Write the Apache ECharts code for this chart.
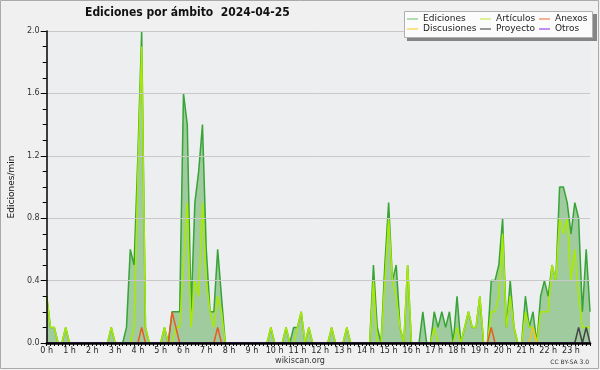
<!DOCTYPE html>
<html><head><meta charset="utf-8">
<script src="https://cdn.jsdelivr.net/npm/echarts@6/dist/echarts.min.js"></script>
<style>html,body{margin:0;padding:0;background:#f0f0f0}#c{width:600px;height:370px}</style>
</head><body><div id="c"></div><script>
const hourLabels = ['0 h','1 h','2 h','3 h','4 h','5 h','6 h','7 h','8 h','9 h','10 h','11 h','12 h','13 h','14 h','15 h','16 h','17 h','18 h','19 h','20 h','21 h','22 h','23 h'];
const yTicks = [0, 0.4, 0.8, 1.2, 1.6, 2.0];
// 10-minute bins, 6 per hour
const ediciones = [
 0.3,0.1,0.1,0,0,0.1,
 0,0,0,0,0,0,
 0,0,0,0,0,0.1,
 0,0,0,0.1,0.6,0.5,
 1.2,2.0,0.1,0,0,0,
 0,0.1,0,0.2,0.2,0.2,
 1.6,1.4,0.2,0.9,1.1,1.4,
 0.6,0.2,0.2,0.6,0.3,0,
 0,0,0,0,0,0,
 0,0,0,0,0,0.1,
 0,0,0,0.1,0,0.1,
 0.1,0.2,0,0.1,0,0,
 0,0,0,0.1,0,0,
 0,0.1,0,0,0,0,
 0,0,0.5,0.1,0,0.5,
 0.9,0.4,0.5,0.1,0,0.5,
 0,0,0,0.2,0,0,
 0.2,0.1,0.2,0.1,0.2,0,
 0.3,0,0.1,0.2,0.1,0.1,
 0.3,0,0,0.4,0.4,0.5,
 0.8,0.1,0.4,0.1,0,0,
 0.3,0.1,0.2,0,0.3,0.4,
 0.3,0.5,0.4,1.0,1.0,0.9,
 0.7,0.9,0.8,0.2,0.6,0.2
];
const articulos = [
 0.3,0.1,0.1,0,0,0.1,
 0,0,0,0,0,0,
 0,0,0,0,0,0.1,
 0,0,0,0,0,0.1,
 1.1,1.9,0.1,0,0,0,
 0,0.1,0,0,0.1,0.1,
 0.5,0.9,0.1,0.4,0.3,0.9,
 0.4,0.2,0.1,0.3,0.2,0,
 0,0,0,0,0,0,
 0,0,0,0,0,0.1,
 0,0,0,0.1,0,0,
 0.1,0.2,0,0.1,0,0,
 0,0,0,0.1,0,0,
 0,0.1,0,0,0,0,
 0,0,0.4,0,0,0.4,
 0.8,0.4,0.3,0.1,0,0.5,
 0,0,0,0,0,0,
 0.1,0,0,0,0,0,
 0.1,0,0.1,0.2,0.1,0.1,
 0.3,0,0,0.2,0.2,0.3,
 0.7,0.1,0.3,0.1,0,0,
 0.2,0.1,0.1,0,0.2,0.2,
 0.2,0.5,0.4,0.8,0.7,0.8,
 0.4,0.6,0.3,0.1,0.1,0.1
];
const anexos = [
 0,0,0,0,0,0, 0,0,0,0,0,0, 0,0,0,0,0,0, 0,0,0,0,0,0,
 0,0.1,0,0,0,0, 0,0,0,0.2,0.1,0, 0,0,0,0,0,0, 0,0,0,0.1,0,0,
 0,0,0,0,0,0, 0,0,0,0,0,0, 0,0,0,0,0,0, 0,0,0,0,0,0,
 0,0,0,0,0,0, 0,0,0,0,0,0, 0,0,0,0,0,0, 0,0,0,0,0,0,
 0,0,0,0,0,0, 0,0,0,0,0,0, 0,0,0,0,0,0, 0,0,0,0.1,0,0,
 0,0,0,0,0,0, 0,0,0,0,0,0, 0,0,0,0,0,0, 0,0,0,0,0,0
];
const discusiones = [
 0,0,0,0,0,0, 0,0,0,0,0,0, 0,0,0,0,0,0, 0,0,0,0,0,0,
 0,0,0,0,0,0, 0,0,0,0,0,0, 0,0,0,0,0,0, 0,0,0,0,0,0,
 0,0,0,0,0,0, 0,0,0,0,0,0, 0,0,0,0,0,0, 0,0,0,0,0,0,
 0,0,0,0,0,0, 0,0,0,0,0,0, 0,0,0,0,0,0, 0,0,0,0,0,0,
 0,0,0,0,0,0, 0,0,0,0,0,0, 0,0,0,0,0,0, 0,0,0,0,0,0,
 0,0,0,0,0,0, 0,0,0.1,0,0,0, 0,0,0,0,0,0, 0,0,0,0,0,0
];
const proyecto = [
 0,0,0,0,0,0, 0,0,0,0,0,0, 0,0,0,0,0,0, 0,0,0,0,0,0,
 0,0,0,0,0,0, 0,0,0,0,0,0, 0,0,0,0,0,0, 0,0,0,0,0,0,
 0,0,0,0,0,0, 0,0,0,0,0,0, 0,0,0,0,0,0, 0,0,0,0,0,0,
 0,0,0,0,0,0, 0,0,0,0,0,0, 0,0,0,0,0,0, 0,0,0,0,0,0,
 0,0,0,0,0,0, 0,0,0,0,0,0, 0,0,0,0,0,0, 0,0,0,0,0,0,
 0,0,0,0,0,0, 0,0,0,0,0,0, 0,0,0,0,0,0, 0,0,0.1,0,0.1,0
];
const otros = new Array(144).fill(0);

const categories = [];
for (let h = 0; h < 24; h++) for (let m = 0; m < 6; m++) categories.push(h + ':' + m + '0');

const FONT = 'DejaVu Sans';
const chart = echarts.init(document.getElementById('c'), null, {renderer: 'canvas'});
const colors = {
  ed: '#36a436', edFill: '#9fcb9f', art: '#aaea00', anx: '#ec5a1c', dis: '#f2c41c', pro: '#444444', otr: '#9a3cf0'
};
const legendColors = {
  'Ediciones': '#80cc80', 'Artículos': '#c8ec50', 'Anexos': '#f08050',
  'Discusiones': '#fcd040', 'Proyecto': '#555555', 'Otros': '#9a48f0'
};
function lineSeries(name, data, color, z) {
  return {name, type: 'line', data, symbol: 'none', smooth: false, z,
    lineStyle: {color, width: 1.5}, itemStyle: {color}, emphasis: {disabled: true}, animation: false};
}
function legendData(names) {
  return names.map(n => ({name: n, itemStyle: {color: legendColors[n]}}));
}
const legendCommon = {
  orient: 'vertical', padding: 0, itemGap: 0, itemWidth: 11, itemHeight: 1.2, icon: 'rect',
  textStyle: {fontFamily: FONT, fontSize: 9, color: '#222', lineHeight: 10}, selectedMode: false, z: 20
};
chart.setOption({
  animation: false,
  backgroundColor: '#f0f0f0',
  title: {text: 'Ediciones por ámbito  2024-04-25', left: 80, top: 2,
    textStyle: {fontFamily: 'DejaVu Sans Condensed, DejaVu Sans', fontWeight: 'bold', fontSize: 12, color: '#111'}},
  grid: {left: 46.7, right: 10, top: 31, bottom: 27, show: true, backgroundColor: '#edeef0', borderWidth: 0, outerBoundsMode: 'none'},
  legend: [
    Object.assign({}, legendCommon, {left: 407, top: 14, data: legendData(['Ediciones', 'Discusiones'])}),
    Object.assign({}, legendCommon, {left: 480, top: 14, data: legendData(['Artículos', 'Proyecto'])}),
    Object.assign({}, legendCommon, {left: 539, top: 14, data: legendData(['Anexos', 'Otros'])})
  ],
  xAxis: {
    type: 'category', data: categories, boundaryGap: false, z: 10,
    axisLine: {lineStyle: {color: '#000', width: 2.5}},
    axisTick: {show: true, interval: 0, length: 3, lineStyle: {color: '#000', width: 1}},
    axisLabel: {interval: 5, margin: 4, fontFamily: FONT, fontSize: 8, color: '#222',
      formatter: (v, i) => hourLabels[Math.floor(i / 6)]},
    splitLine: {show: false}
  },
  yAxis: {
    type: 'value', min: yTicks[0], max: yTicks[yTicks.length - 1], interval: 0.4, z: 10,
    name: 'Ediciones/min', nameLocation: 'middle', nameGap: 30, nameRotate: 90,
    nameTextStyle: {fontFamily: FONT, fontSize: 9, color: '#111'},
    axisLine: {show: true, lineStyle: {color: '#000', width: 1.5}},
    axisTick: {show: true, length: 6, lineStyle: {color: '#000'}},
    minorTick: {show: true, splitNumber: 4, length: 4, lineStyle: {color: '#000'}},
    axisLabel: {margin: 7, fontFamily: FONT, fontSize: 8, color: '#333', formatter: v => v.toFixed(1)},
    splitLine: {show: true, lineStyle: {color: '#c8c8c8', width: 1}}
  },
  series: [
    Object.assign(lineSeries('Ediciones', ediciones, colors.ed, 2), {areaStyle: {color: colors.edFill, opacity: 1}}),
    lineSeries('Artículos', articulos, colors.art, 3),
    lineSeries('Anexos', anexos, colors.anx, 4),
    lineSeries('Discusiones', discusiones, colors.dis, 4),
    lineSeries('Proyecto', proyecto, colors.pro, 4),
    lineSeries('Otros', otros, colors.otr, 4)
  ],
  graphic: [
    {type: 'rect', shape: {x: 0.5, y: 0.5, width: 598, height: 368}, style: {fill: 'none', stroke: '#aaaaaa', lineWidth: 1}, z: 30, silent: true},
    {type: 'rect', shape: {x: 407, y: 14, width: 190, height: 27}, style: {fill: '#858585'}, z: 15, silent: true},
    {type: 'rect', shape: {x: 404.5, y: 11.5, width: 188, height: 26}, style: {fill: '#fbfbfb', stroke: '#b0b0b0', lineWidth: 1}, z: 16, silent: true},
    {type: 'text', x: 300, y: 361, style: {text: 'wikiscan.org', fontFamily: FONT, fontSize: 8, fill: '#333', align: 'center', verticalAlign: 'middle'}, z: 30, silent: true},
    {type: 'text', x: 589, y: 362, style: {text: 'CC BY-SA 3.0', fontFamily: FONT, fontSize: 6, fill: '#333', align: 'right', verticalAlign: 'middle'}, z: 30, silent: true}
  ]
});
</script></body></html>
